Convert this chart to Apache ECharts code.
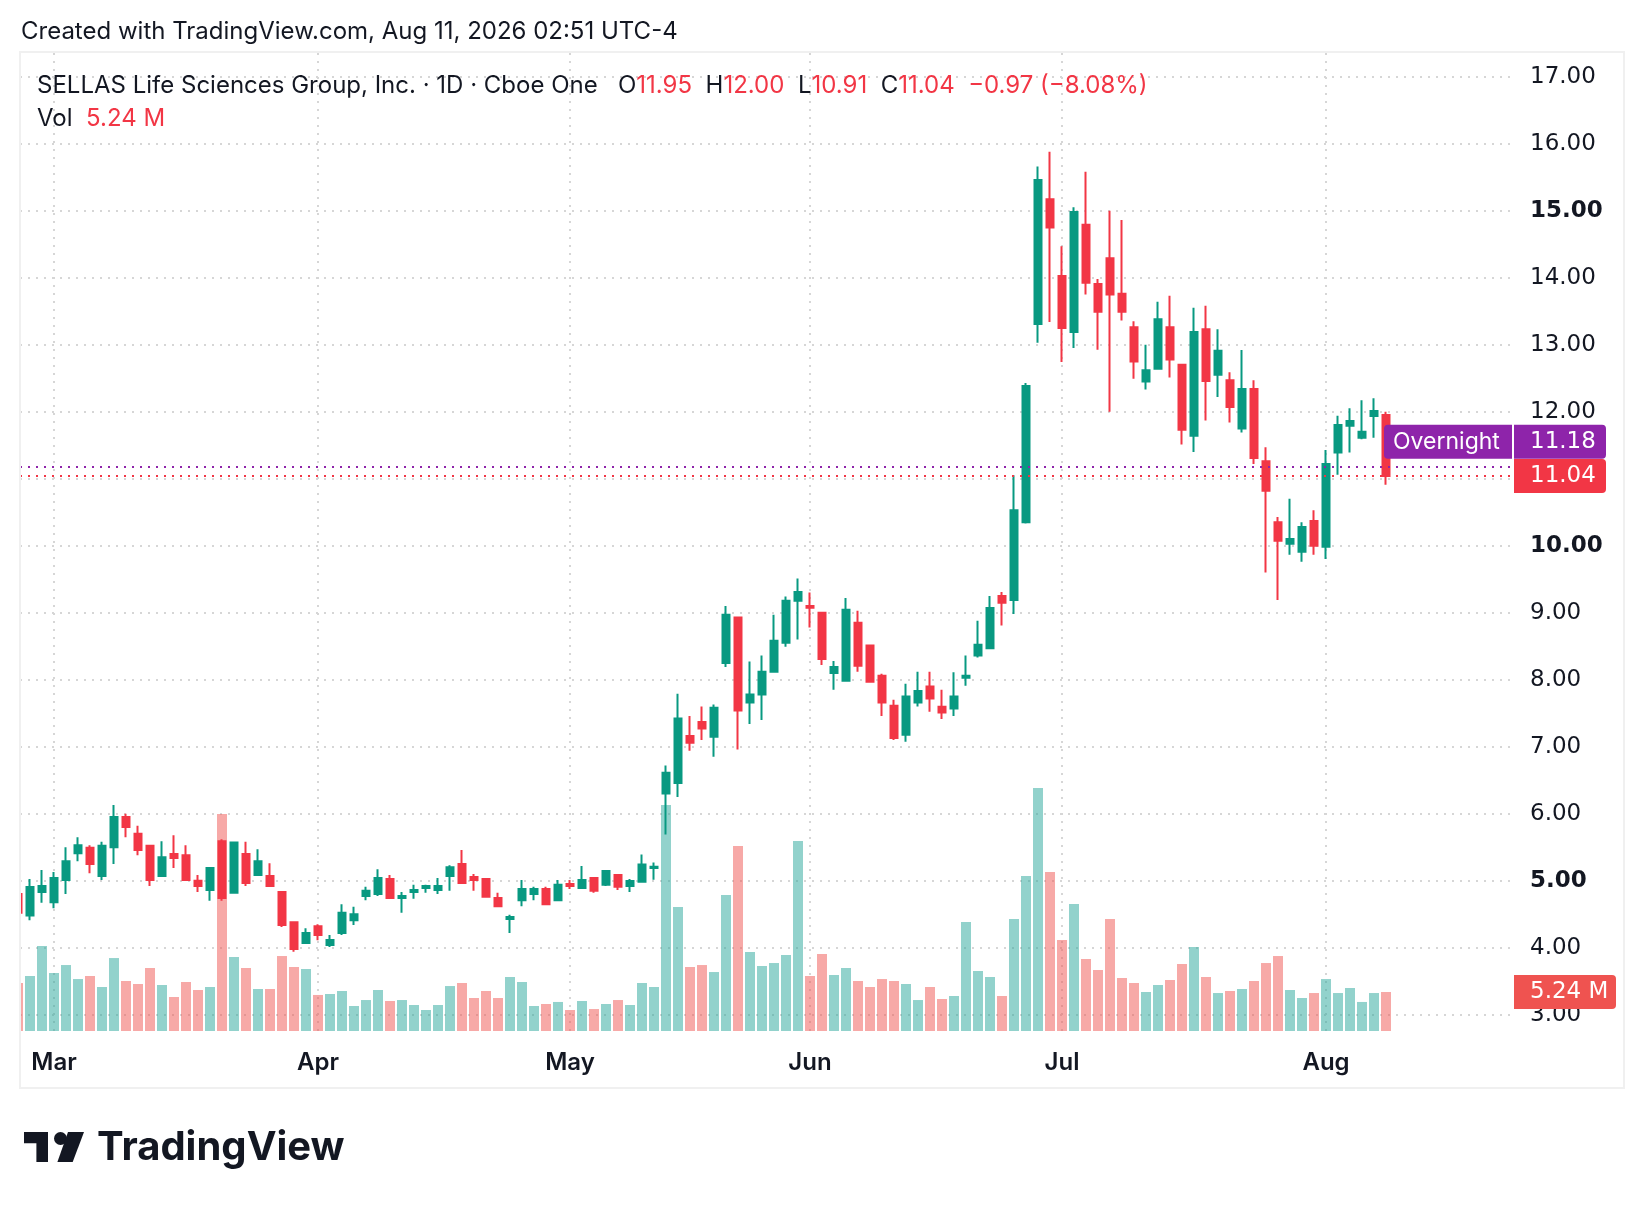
<!DOCTYPE html>
<html>
<head>
<meta charset="utf-8">
<script src="https://cdn.jsdelivr.net/npm/echarts@6/dist/echarts.min.js"></script>
<style>
html,body{margin:0;padding:0;background:#fff}
#main{width:1644px;height:1208px}
</style>
</head>
<body>
<div id="main"></div>
<script>
// daily bars, Feb 25 - Aug 10 2026
var dates = [
  '02-25','02-26','02-27',
  '03-02','03-03','03-04','03-05','03-06','03-09','03-10','03-11','03-12','03-13','03-16','03-17','03-18','03-19','03-20','03-23','03-24','03-25','03-26','03-27','03-30','03-31',
  '04-01','04-02','04-06','04-07','04-08','04-09','04-10','04-13','04-14','04-15','04-16','04-17','04-20','04-21','04-22','04-23','04-24','04-27','04-28','04-29','04-30',
  '05-01','05-04','05-05','05-06','05-07','05-08','05-11','05-12','05-13','05-14','05-15','05-18','05-19','05-20','05-21','05-22','05-26','05-27','05-28','05-29',
  '06-01','06-02','06-03','06-04','06-05','06-08','06-09','06-10','06-11','06-12','06-15','06-16','06-17','06-18','06-22','06-23','06-24','06-25','06-26','06-29','06-30',
  '07-01','07-02','07-06','07-07','07-08','07-09','07-10','07-13','07-14','07-15','07-16','07-17','07-20','07-21','07-22','07-23','07-24','07-27','07-28','07-29','07-30','07-31',
  '08-03','08-04','08-05','08-06','08-07','08-10'
];
var opens = [
  4.80,4.48,4.83,
  4.68,5.01,5.41,5.49,5.07,5.50,5.95,5.70,5.52,5.07,5.40,5.38,5.00,4.86,5.59,4.82,5.40,5.085,5.07,4.83,4.38,4.07,
  4.32,4.04,4.22,4.41,4.77,4.80,5.025,4.74,4.83,4.89,4.86,5.07,5.25,5.055,5.025,4.74,4.43,4.71,4.80,4.875,4.71,
  4.95,4.89,5.04,4.94,5.085,4.92,4.985,5.19,6.30,6.46,7.16,7.37,7.15,8.25,8.93,7.66,7.78,8.12,8.55,9.18,
  9.10,9.00,8.10,7.985,8.85,8.51,8.06,7.61,7.18,7.66,7.90,7.595,7.57,8.03,8.36,8.47,9.25,9.19,10.35,13.31,15.17,
  14.025,13.19,14.79,13.905,14.29,13.76,13.26,12.45,12.64,13.26,12.70,11.64,13.23,12.55,12.47,11.75,12.34,11.26,10.35,10.03,9.91,10.37,
  9.985,11.39,11.79,11.61,11.935,11.95
];
var closes = [
  4.52,4.905,4.92,
  5.04,5.29,5.53,5.25,5.52,5.95,5.80,5.46,5.01,5.35,5.34,5.01,4.92,5.19,4.74,5.57,4.965,5.29,4.92,4.34,3.98,4.22,
  4.19,4.115,4.52,4.50,4.85,5.04,4.74,4.77,4.86,4.92,4.92,5.20,4.965,5.01,4.76,4.62,4.46,4.875,4.875,4.65,4.94,
  4.92,5.01,4.85,5.145,4.91,4.995,5.24,5.21,6.61,7.42,7.06,7.27,7.58,8.97,7.54,7.78,8.12,8.58,9.18,9.31,
  9.075,8.31,8.19,9.045,8.21,7.97,7.66,7.13,7.75,7.83,7.72,7.51,7.75,8.06,8.52,9.07,9.15,10.53,12.385,15.46,14.75,
  13.25,14.98,13.925,13.49,13.75,13.49,12.75,12.62,13.38,12.78,11.73,13.19,12.46,12.91,12.07,12.34,11.31,10.82,10.075,10.10,10.28,10.00,
  11.22,11.80,11.86,11.70,12.01,11.04
];
var lows = [
  4.45,4.41,4.67,
  4.59,4.80,5.29,5.11,5.01,5.25,5.65,5.38,4.92,5.07,5.19,5.00,4.83,4.70,4.70,4.81,4.92,5.08,4.905,4.31,3.94,4.07,
  4.11,4.01,4.19,4.34,4.71,4.77,4.73,4.52,4.73,4.82,4.80,4.85,4.965,4.85,4.76,4.61,4.22,4.62,4.71,4.65,4.70,
  4.875,4.89,4.82,4.92,4.86,4.83,4.97,5.015,5.69,6.25,6.94,7.10,6.85,8.19,6.96,7.34,7.40,8.12,8.49,8.60,
  8.78,8.22,7.85,7.97,8.12,7.955,7.46,7.10,7.075,7.60,7.52,7.415,7.46,7.91,8.33,8.46,8.81,8.98,10.33,13.03,13.34,
  12.74,12.95,13.75,12.925,12.00,13.36,12.49,12.33,12.63,12.51,11.51,11.40,11.87,12.22,11.84,11.69,11.22,9.60,9.19,9.865,9.76,9.865,
  9.80,11.06,11.39,11.59,11.61,10.91
];
var highs = [
  4.86,5.025,5.16,
  5.13,5.50,5.65,5.53,5.58,6.13,6.00,5.82,5.52,5.59,5.68,5.53,5.085,5.20,5.62,5.58,5.58,5.47,5.26,4.83,4.38,4.29,
  4.35,4.19,4.65,4.61,4.91,5.17,5.085,4.83,4.94,4.94,5.04,5.23,5.46,5.10,5.04,4.82,4.49,5.01,4.91,4.91,5.01,
  5.01,5.22,5.04,5.16,5.10,5.025,5.39,5.27,6.72,7.79,7.46,7.60,7.63,9.10,8.94,8.27,8.36,8.97,9.24,9.51,
  9.30,9.00,8.28,9.22,9.03,8.52,8.09,7.70,7.94,8.12,8.12,7.85,8.11,8.36,8.88,9.25,9.31,11.05,12.43,15.66,15.88,
  14.47,15.05,15.58,13.98,15.00,14.86,13.35,13.00,13.64,13.73,12.70,13.55,13.58,13.23,12.59,12.92,12.47,11.47,10.43,10.70,10.35,10.53,
  11.43,11.94,12.05,12.17,12.20,12.00
];
// volume, millions
var volumes = [
  6.45,7.39,11.42,
  7.79,8.86,6.98,7.39,5.91,9.80,6.72,6.31,8.46,6.18,4.57,6.58,5.51,5.91,29.15,9.94,8.46,5.64,5.64,10.07,8.60,8.33,
  4.84,4.97,5.37,3.36,4.16,5.51,4.03,4.16,3.49,2.82,3.49,6.04,6.45,4.43,5.37,4.43,7.25,6.58,3.36,3.63,3.90,
  2.82,4.03,2.95,3.63,4.16,3.49,6.45,5.91,30.35,16.65,8.60,8.86,7.92,18.27,24.85,10.61,8.73,9.13,10.21,25.52,
  7.39,10.34,7.52,8.46,6.72,5.91,6.98,6.72,6.31,4.16,5.91,4.30,4.70,14.64,8.06,7.25,4.70,15.04,20.82,32.64,21.36,
  12.22,17.06,9.67,8.19,15.04,7.12,6.45,5.24,6.18,6.85,9.00,11.28,7.25,5.10,5.37,5.64,6.72,9.13,10.07,5.51,4.43,5.10,
  6.98,5.10,5.78,3.90,5.10,5.24
];
var monthStarts = ['03-02','04-01','05-01','06-01','07-01','08-03'];
var monthNames = ['Mar','Apr','May','Jun','Jul','Aug'];
var overnightPrice = 11.18;

var UP = '#089981', DOWN = '#f23645';
var TXT = '#131722';
var FONT = 'Inter';
var NUMFONT = 'DejaVu Sans';
var monthIdx = monthStarts.map(function (d) { return dates.indexOf(d); });
var last = dates.length - 1;

var chart = echarts.init(document.getElementById('main'));

var gridLine = { color: '#d6d6d6', width: 2, type: [2, 6] };

var option = {
  animation: false,
  backgroundColor: '#fff',
  grid: [
    { left: 20, right: 132, top: 76.7, bottom: 193.3 },   // prices 17 -> 3
    { left: 20, right: 132, top: 52, bottom: 177 }        // full pane (volume)
  ],
  xAxis: [
    { type: 'value', gridIndex: 0, min: 1 / 6, max: 124.5, show: false, splitLine: { show: false } },
    {
      type: 'value', gridIndex: 1, min: 1 / 6, max: 124.5,
      axisLine: { show: false }, axisTick: { show: false }, splitLine: { show: false },
      axisLabel: {
        customValues: monthIdx,
        margin: 20,
        fontSize: 24, fontWeight: 600, fontFamily: FONT, color: TXT,
        formatter: function (v) { return monthNames[monthIdx.indexOf(v)] || ''; }
      }
    }
  ],
  yAxis: [
    {
      type: 'value', gridIndex: 0, position: 'right', min: 3, max: 17, interval: 1,
      axisLine: { show: false }, axisTick: { show: false },
      splitLine: { lineStyle: gridLine },
      axisLabel: {
        margin: 18, fontSize: 23, fontFamily: NUMFONT, color: TXT,
        formatter: function (v) {
          var s = v.toFixed(2);
          return v % 5 === 0 ? '{b|' + s + '}' : s;
        },
        rich: { b: { fontSize: 23, fontFamily: NUMFONT, fontWeight: 'bold', color: TXT } }
      }
    },
    { type: 'value', gridIndex: 1, min: 0, max: 131.5, show: false, splitLine: { show: false } }
  ],
  series: [
    {
      name: 'Vol',
      type: 'bar',
      z: 1,
      xAxisIndex: 1, yAxisIndex: 1,
      barWidth: 10,
      data: volumes.map(function (v, i) {
        return {
          value: [i, v],
          itemStyle: { color: closes[i] >= opens[i] ? 'rgba(38,166,154,0.5)' : 'rgba(239,83,80,0.5)' }
        };
      }),
      markLine: {
        z: 0,
        silent: true, symbol: 'none', label: { show: false },
        lineStyle: gridLine,
        data: monthIdx.map(function (i) { return { xAxis: i }; })
      }
    },
    {
      name: 'SLS',
      type: 'candlestick',
      z: 4,
      clip: true,
      xAxisIndex: 0, yAxisIndex: 0,
      barWidth: 8,
      encode: { x: 0, y: [1, 2, 3, 4] },
      itemStyle: { color: UP, color0: DOWN, borderColor: UP, borderColor0: DOWN, borderWidth: 2 },
      data: dates.map(function (d, i) { return [i, opens[i], closes[i], lows[i], highs[i]]; }),
      markLine: {
        silent: true, symbol: 'none', label: { show: false },
        data: [
          { yAxis: overnightPrice, lineStyle: { color: '#8e24aa', width: 2, type: [2, 6] } },
          { yAxis: closes[last], lineStyle: { color: DOWN, width: 2, type: [2, 6] } }
        ]
      }
    }
  ]
};
chart.setOption(option);

// tags on the price scale, placed from the axes' own scales
var yOv = chart.convertToPixel({ yAxisIndex: 0 }, overnightPrice);
var yCl = chart.convertToPixel({ yAxisIndex: 0 }, closes[last]);
var yVol = chart.convertToPixel({ yAxisIndex: 1 }, volumes[last]);
if (yCl - yOv < 34) yOv = yCl - 34.3;

function tag(x, yc, w, fill, r, label, tx, font) {
  return [
    { type: 'rect', z: 100, shape: { x: x, y: yc - 17, width: w, height: 34, r: r }, style: { fill: fill } },
    { type: 'text', z: 101, x: tx, y: yc, style: { text: label, fill: '#fff', font: font, verticalAlign: 'middle' } }
  ];
}

var red = DOWN;
var headRich = {
  k: { fill: TXT, font: '24px ' + FONT },
  v: { fill: red, font: '24px ' + FONT }
};

var graphics = [
  // the pane cuts the first bar at its left edge
  { type: 'rect', z: 60, shape: { x: 0, y: 52, width: 19, height: 1036 }, style: { fill: '#fff' } },
  { type: 'rect', z: 61, shape: { x: 20, y: 52, width: 1604, height: 1036 }, style: { fill: 'none', stroke: '#f0f0f0', lineWidth: 2 } },
  { type: 'text', x: 21, y: 32, style: { text: 'Created with TradingView.com, Aug 11, 2026 02:51 UTC-4', fill: TXT, font: '24px ' + FONT, verticalAlign: 'middle' } },
  { type: 'text', x: 37, y: 86, z: 50, style: {
      text: '{k|SELLAS Life Sciences Group, Inc. · 1D · Cboe One}   {k|O}{v|11.95}  {k|H}{v|12.00}  {k|L}{v|10.91}  {k|C}{v|11.04}  {v|−0.97 (−8.08%)}',
      rich: headRich, font: '24px ' + FONT, verticalAlign: 'middle' } },
  { type: 'text', x: 37, y: 119, z: 50, style: {
      text: '{k|Vol}  {v|5.24 M}', rich: headRich, font: '24px ' + FONT, verticalAlign: 'middle' } },
  // TradingView logo
  { type: 'polygon', shape: { points: [[24, 1132], [48, 1132], [48, 1162], [36.4, 1162], [36.4, 1143.3], [24, 1143.3]] }, style: { fill: TXT } },
  { type: 'circle', shape: { cx: 60.5, cy: 1138.5, r: 6.5 }, style: { fill: TXT } },
  { type: 'polygon', shape: { points: [[68, 1132], [84, 1132], [72.7, 1162], [57.4, 1162]] }, style: { fill: TXT } },
  { type: 'text', x: 97, y: 1148, style: { text: 'TradingView', fill: TXT, font: 'bold 40px ' + FONT, verticalAlign: 'middle' } }
];
var tagFont = '23px ' + NUMFONT;
graphics = graphics
  .concat(tag(1384, yOv, 128, '#8e24aa', [4, 0, 0, 4], 'Overnight', 1393, '23px ' + FONT))
  .concat(tag(1514, yOv, 92, '#8e24aa', [0, 4, 4, 0], overnightPrice.toFixed(2), 1530, tagFont))
  .concat(tag(1514, yCl, 92, red, [0, 4, 4, 0], closes[last].toFixed(2), 1530, tagFont))
  .concat(tag(1514, yVol, 102, '#ef5350', [0, 4, 4, 0], volumes[last].toFixed(2) + ' M', 1530, tagFont));

chart.setOption({ graphic: graphics });
</script>
</body>
</html>
